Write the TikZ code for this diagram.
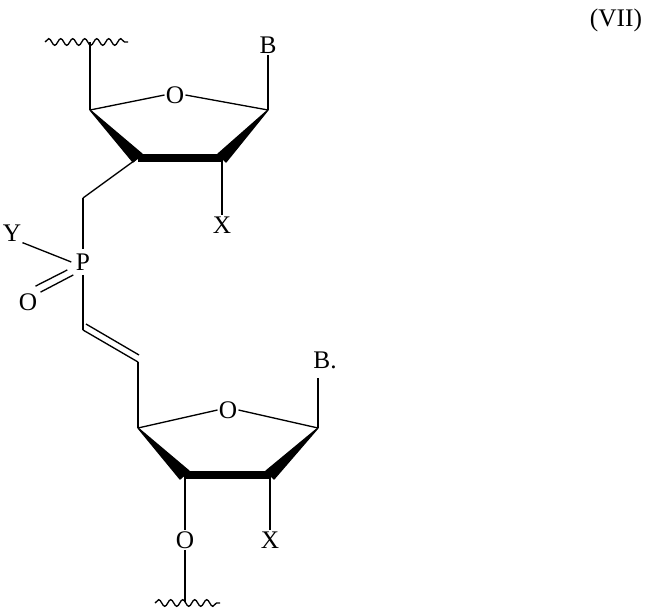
\documentclass[tikz,border=0pt]{standalone}
\usepackage{fontspec}
\setmainfont{Liberation Serif}
\usetikzlibrary{decorations.pathmorphing,calc}
\begin{document}
\begin{tikzpicture}[x=0.75pt,y=-0.75pt,line width=1pt,
  lbl/.style={inner sep=0.5pt,font=\fontsize{19}{21}\selectfont},
  wavy/.style={decorate,decoration={snake,amplitude=2.5pt,segment length=9pt}},
  wedge/.style={fill=black,draw=black,line join=round}]
\useasboundingbox (0,0) rectangle (649,613);
\node[lbl] (vii) at (616,20) {(VII)};
% top sugar
\coordinate (w1a) at (45,42); \coordinate (w1b) at (128,42);
\draw[wavy] (w1a) -- (w1b);
\coordinate (c4a) at (90,110);
\coordinate (c3a) at (138,158);
\coordinate (c2a) at (222,158);
\coordinate (c1a) at (268,110);
\node[lbl] (oa) at (175,95) {O};
\node[lbl] (ba) at (268,45) {B};
\node[lbl] (xa) at (222,225) {X};
\draw (90,42) -- (c4a);
\draw (c4a) -- (oa.west);
\draw (oa.east) -- (c1a);
\draw (c1a) -- (ba.south);
\fill[wedge] (c4a) -- ($(c3a)+(-5,4)$) -- ($(c3a)+(4,-4)$) -- cycle;
\draw[line width=5.5pt] (c3a) -- (c2a);
\fill[wedge] (c1a) -- ($(c2a)+(4,4)$) -- ($(c2a)+(-4,-4)$) -- cycle;
\draw (c2a) -- (xa.north);
\coordinate (ch2) at (83,198);
\draw (c3a) -- (ch2);
\node[lbl,inner sep=3pt] (p) at (83,262) {P};
\draw (ch2) -- (p.north);
\node[lbl] (y) at (12,233) {Y};
\draw (y.south east) -- (p.west);
\node[lbl] (op) at (28,302) {O};
\draw ($(p.south west)+(2,0)$) -- ($(op.north east)+(2,0)$);
\draw ($(p.south west)+(-4,-5)$) -- ($(op.north east)+(-3,-6)$);
\coordinate (v1) at (83,330);
\coordinate (v2) at (138,362);
\draw (p.south) -- (v1);
\draw (v1) -- (v2);
\draw ($(v1)+(3,-6)$) -- ($(v2)+(1,-7)$);
% bottom sugar
\coordinate (c4b) at (138,428);
\coordinate (c3b) at (185,475);
\coordinate (c2b) at (270,475);
\coordinate (c1b) at (318,428);
\node[lbl] (ob) at (228,410) {O};
\node[lbl] (bb) at (325,360) {B.};
\node[lbl] (xb) at (270,540) {X};
\node[lbl] (o3) at (185,540) {O};
\draw (v2) -- (c4b);
\draw (c4b) -- (ob.west);
\draw (ob.east) -- (c1b);
\draw (c1b) -- (318,378);
\fill[wedge] (c4b) -- ($(c3b)+(-5,4)$) -- ($(c3b)+(4,-4)$) -- cycle;
\draw[line width=5.5pt] (c3b) -- (c2b);
\fill[wedge] (c1b) -- ($(c2b)+(4,4)$) -- ($(c2b)+(-4,-4)$) -- cycle;
\draw (c2b) -- (xb.north);
\draw (c3b) -- (o3.north);
\draw (o3.south) -- (185,602);
\draw[wavy] (155,603) -- (220,603);
\end{tikzpicture}
\end{document}
